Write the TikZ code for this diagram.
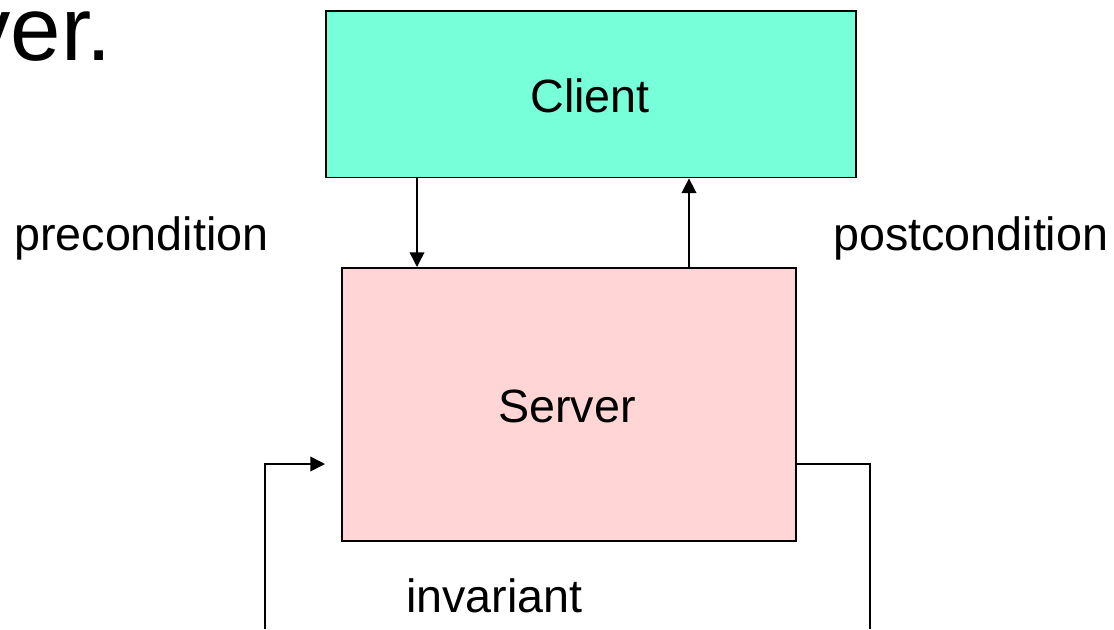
\documentclass[tikz,border=0pt]{standalone}
\usepackage{fontspec}
\setmainfont{Liberation Sans}
\usetikzlibrary{arrows.meta}
\definecolor{clientfill}{RGB}{119,255,217}
\definecolor{serverfill}{RGB}{255,213,214}
\tikzset{
  px/.style={x=0.75pt,y=-0.75pt},
  box/.style={draw=black,line width=1.3pt,inner sep=0pt,anchor=north west},
  lbl/.style={inner sep=0pt,font=\fontsize{35}{42}\selectfont},
  conn/.style={line width=1.2pt,-{Triangle[length=11pt,width=11pt]}},
  wire/.style={line width=1.2pt},
}
\begin{document}
\begin{tikzpicture}[px]
\useasboundingbox (0,0) rectangle (1114,629);
% heading fragment
\node[inner sep=0pt,anchor=base east,font=\fontsize{68}{80}\selectfont] (head) at (112,60) {ver.};
% the two parties
\node[box,fill=clientfill,minimum width=397.5pt,minimum height=125pt] (client) at (325,10) {};
\node[lbl,anchor=base] (clienttxt) at (590,112) {Client};
\node[box,fill=serverfill,minimum width=340.5pt,minimum height=204.75pt] (server) at (341,267) {};
\node[lbl,anchor=base] (servertxt) at (567,422) {Server};
% labels
\node[lbl,anchor=base west] (pre) at (14,250) {precondition};
\node[lbl,anchor=base west] (post) at (833,250) {postcondition};
\node[lbl,anchor=base west] (inv) at (406,612) {invariant};
% call and return
\draw[conn] (client.south west -| 417,0) -- (server.north west -| 417,0);
\draw[conn] (server.north west -| 689,0) -- (client.south west -| 689,0);
% invariant loop
\coordinate (loopL) at (265,629);
\coordinate (loopR) at (870,629);
\coordinate (inpt) at (325,464);
\draw[conn] (loopL) |- (inpt);
\draw[wire] (server.east |- 0,464) -| (loopR);
\end{tikzpicture}
\end{document}
